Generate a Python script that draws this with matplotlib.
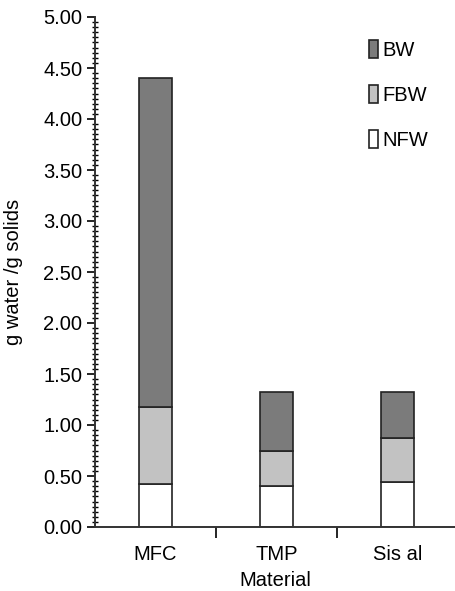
import numpy as np
import matplotlib.pyplot as plt
from matplotlib.ticker import MultipleLocator, FixedLocator, FormatStrFormatter

materials = ['MFC', 'TMP', 'Sis al']
nfw = [0.42, 0.40, 0.44]
fbw = [0.76, 0.35, 0.43]
bw = [3.22, 0.57, 0.45]

plt.rc('font', family='Liberation Sans', size=14.5)

fig = plt.figure(figsize=(4.55, 5.91), dpi=100)
ax = fig.add_axes([95/455, 64/591, 360/455, 510/591])

x = np.arange(len(materials))
w = 0.27
ax.bar(x, nfw, w, color='white', edgecolor='#222222', linewidth=1.2, label='NFW')
ax.bar(x, fbw, w, bottom=nfw, color='#c2c2c2', edgecolor='#222222', linewidth=1.2, label='FBW')
bot2 = np.array(nfw) + np.array(fbw)
ax.bar(x, bw, w, bottom=bot2, color='#7b7b7b', edgecolor='#222222', linewidth=1.2, label='BW')

ax.set_xlim(-0.5, 2.475)
ax.set_ylim(0, 5)
ax.yaxis.set_major_locator(MultipleLocator(0.5))
ax.yaxis.set_minor_locator(MultipleLocator(0.05))
ax.yaxis.set_major_formatter(FormatStrFormatter('%.2f'))
ax.tick_params(axis='y', which='major', direction='out', length=6, width=1.2, pad=3)
ax.tick_params(axis='y', which='minor', direction='inout', length=4, width=1)

ax.set_xticks(x)
ax.set_xticklabels(materials)
ax.tick_params(axis='x', which='major', length=0, pad=13)
ax.xaxis.set_minor_locator(FixedLocator([0.5, 1.5, 2.5]))
ax.tick_params(axis='x', which='minor', direction='out', length=8, width=1.2)

for s in ['top', 'right']:
    ax.spines[s].set_visible(False)
for s in ['left', 'bottom']:
    ax.spines[s].set_linewidth(1.4)
    ax.spines[s].set_color('#333333')

xl = ax.set_xlabel('Material', va='center')
ax.xaxis.set_label_coords(0.5, -0.104)
ax.set_ylabel('g water /g solids', labelpad=15)

h, l = ax.get_legend_handles_labels()
ax.legend(h[::-1], l[::-1], loc='upper left', bbox_to_anchor=(0.71, 0.99), frameon=False,
          handlelength=0.45, handleheight=1.0, handletextpad=0.25, labelspacing=1.25)

plt.savefig('out.png', dpi=100)
